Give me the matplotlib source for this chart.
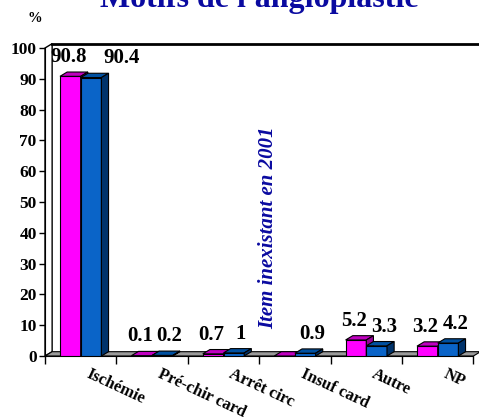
import numpy as np
import matplotlib.pyplot as plt
from matplotlib.patches import Polygon

# data
categories = ['Ischémie', 'Pré-chir card', 'Arrêt circ', 'Insuf card', 'Autre', 'NP']
values_a = [90.8, 0.1, 0.7, np.nan, 5.2, 3.2]   # magenta series (item absent in 2001 for Insuf card)
values_b = [90.4, 0.2, 1.0, 0.9, 3.3, 4.2]      # blue series
yticks = list(range(0, 101, 10))

plt.rcParams['font.family'] = ['Liberation Serif', 'DejaVu Serif']

W, H = 479, 417
fig = plt.figure(figsize=(W / 100, H / 100), dpi=100)
fig.patch.set_facecolor('white')

# axes placed in pixel terms: x=0 at px 45, 71.4 px per group; y=0 at px 356, 3.08 px per unit
left_px, bottom_px, top_px = 45, 356, 40
ax = fig.add_axes([left_px / W, (H - bottom_px) / H, (W - left_px) / W, (bottom_px - top_px) / H])
ax.set_xlim(0, (W - left_px) / 71.4)
ax.set_ylim(0, (bottom_px - top_px) / 3.08)

dx, dy = 0.1, 1.4      # 3D depth offset
w = 0.29               # bar width
n = len(categories)

# walls and floor
ax.add_patch(Polygon([(0, 0), (0, 100), (dx, 100 + dy), (dx, dy)], closed=True,
                     facecolor='white', edgecolor='black', lw=1.0, zorder=1, clip_on=False))
ax.plot([dx, 10], [100 + dy, 100 + dy], color='black', lw=2.0, zorder=1, clip_on=False)
ax.add_patch(Polygon([(0, 0), (n, 0), (n + dx, dy), (dx, dy)], closed=True,
                     facecolor='#9a9a9a', edgecolor='black', lw=0.8, zorder=2, clip_on=False))


def bar3d(x0, h, front, top, side):
    ax.bar(x0, h, width=w, align='edge', color=front, edgecolor='black', lw=0.8, zorder=3)
    ax.add_patch(Polygon([(x0, h), (x0 + w, h), (x0 + w + dx, h + dy), (x0 + dx, h + dy)],
                         closed=True, facecolor=top, edgecolor='black', lw=0.8, zorder=3))
    ax.add_patch(Polygon([(x0 + w, 0), (x0 + w, h), (x0 + w + dx, h + dy), (x0 + w + dx, dy)],
                         closed=True, facecolor=side, edgecolor='black', lw=0.8, zorder=3))


x = np.arange(n)
ha_vals = np.nan_to_num(values_a)
for i in range(n):
    bar3d(x[i] + 0.5 - w, ha_vals[i], '#ff00ff', '#c000c0', '#990099')
    bar3d(x[i] + 0.5, values_b[i], '#0a64c8', '#0050a0', '#00336b')

# value labels (first blue one pushed right to clear its neighbour)
nudge_b = {0: 23}
lab = dict(ha='center', va='bottom', fontsize=15, fontweight='bold', zorder=5,
           textcoords='offset pixels')
for i in range(n):
    if not np.isnan(values_a[i]):
        ax.annotate(f'{values_a[i]:g}', (x[i] + 0.5 - w / 2, values_a[i] + dy),
                    xytext=(-2, 5), **lab)
    ax.annotate(f'{values_b[i]:g}', (x[i] + 0.5 + w / 2 + dx, values_b[i] + dy),
                xytext=(nudge_b.get(i, 0), 5), **lab)

# axes styling
for s in ['top', 'right']:
    ax.spines[s].set_visible(False)
ax.spines['left'].set_bounds(0, 100)
ax.spines['bottom'].set_bounds(0, n)
ax.set_yticks(yticks)
ax.set_yticklabels([str(t) for t in yticks], fontsize=12.5, fontweight='bold')
ax.tick_params(axis='y', length=4, width=1, pad=2)
ax.set_xticks(np.arange(n + 1))
ax.set_xticklabels([])
ax.tick_params(axis='x', length=6, width=1, direction='out')
ax.set_facecolor('none')

# rotated category labels
for i, c in enumerate(categories):
    ax.annotate(c, (x[i] + 0.5, 0), xytext=(10, -10), textcoords='offset pixels',
                rotation=-25, rotation_mode='anchor', ha='left', va='top',
                fontsize=12, fontweight='bold', annotation_clip=False)

# note for missing item
ax.text(3.13, 41.5, 'Item inexistant en 2001', rotation=90, ha='center', va='center',
        fontsize=15, fontweight='bold', fontstyle='italic', color='#0a0aa0', zorder=5)

fig.text(259 / W, 1 - 7 / H, "Motifs de l'angioplastie", ha='center', va='baseline',
         fontsize=23, fontweight='bold', color='#0a0aa0')
fig.text(35 / W, 1 - 18 / H, '%', ha='center', va='center', fontsize=10.5, fontweight='bold')

fig.savefig('out.png', dpi=100)
